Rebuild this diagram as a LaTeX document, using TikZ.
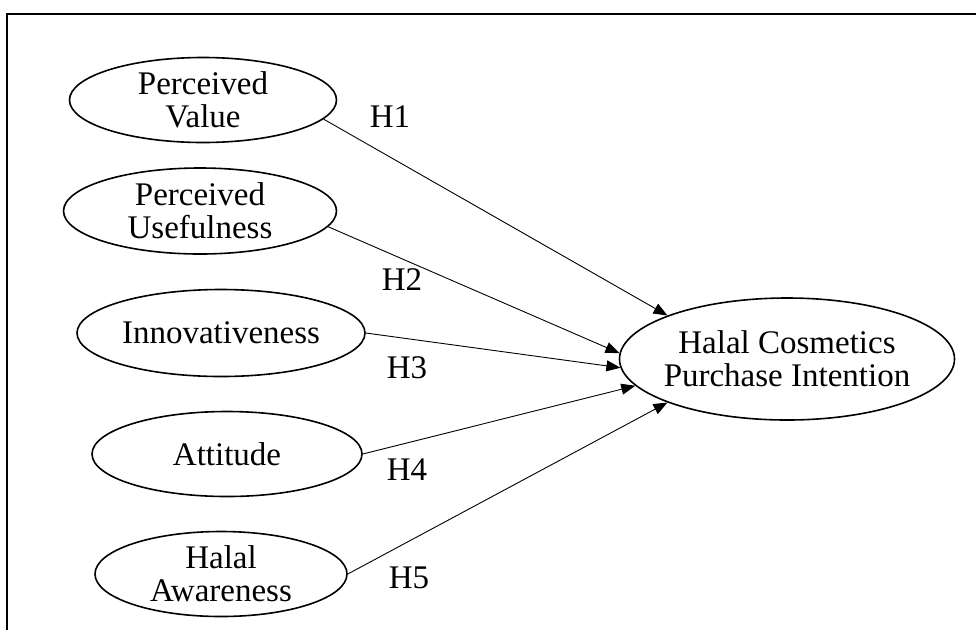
\documentclass[tikz,border=0pt]{standalone}
\usepackage{fontspec}
\setmainfont{Liberation Serif}
\usetikzlibrary{shapes.geometric,arrows.meta}
\tikzset{
  construct/.style={draw, ellipse, line width=1.6pt, inner xsep=-30pt, inner ysep=0pt, align=center,
    font=\fontsize{33}{33}\selectfont},
  hyp/.style={font=\fontsize{33}{33}\selectfont, inner sep=0pt},
  link/.style={line width=0.9pt, -{Triangle[length=14pt,width=11pt]}, shorten >=0pt}
}
\begin{document}
\begin{tikzpicture}[x=1pt,y=-1pt]
\useasboundingbox (0,0) rectangle (976,630);
\draw[line width=1.8pt] (7,630) -- (7,14) -- (976,14);
\node[construct, minimum width=267pt, minimum height=85pt] (pv) at (203,100) {Perceived\\Value};
\node[construct, minimum width=273pt, minimum height=86pt] (pu) at (200,211) {Perceived\\Usefulness};
\node[construct, minimum width=288pt, minimum height=87pt] (in) at (221,333) {Innovativeness};
\node[construct, minimum width=270pt, minimum height=85pt] (at) at (227,454) {Attitude};
\node[construct, minimum width=252pt, minimum height=85pt] (ha) at (221,574) {Halal\\Awareness};
\node[construct, minimum width=335pt, minimum height=122pt] (pi) at (787,359) {Halal Cosmetics\\Purchase Intention};
\draw[link] (pv.-9) -- (pi.160.7);
\draw[link] (pu.-7) -- (pi.178);
\draw[link] (in.0) -- (pi.183.5);
\draw[link] (at.0) -- (pi.190.6);
\draw[link] (ha.0) -- (pi.200);
\node[hyp] (h1) at (390,117) {H1};
\node[hyp] (h2) at (402,280) {H2};
\node[hyp] (h3) at (407,368) {H3};
\node[hyp] (h4) at (407,470) {H4};
\node[hyp] (h5) at (409,578) {H5};
\end{tikzpicture}
\end{document}
